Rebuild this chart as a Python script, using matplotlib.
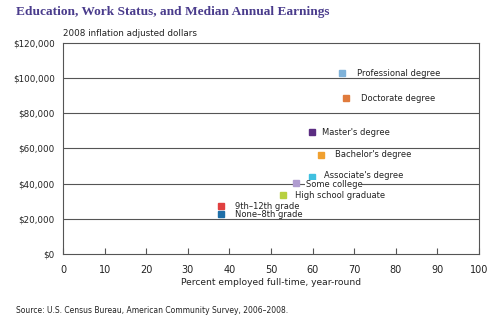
import matplotlib.pyplot as plt

# Data
levels = ["Professional degree", "Doctorate degree", "Master's degree", "Bachelor's degree",
          "Associate's degree", "Some college", "High school graduate",
          "9th\u201312th grade", "None\u20138th grade"]
pct_fulltime = [67.0, 68.0, 59.8, 61.9, 59.9, 55.9, 52.9, 37.9, 37.9]
earnings = [102700, 88400, 69300, 56400, 43600, 40200, 33500, 27000, 22500]
colors = ["#7fb2d9", "#e07b3c", "#5b2d82", "#f0a030", "#40c0e0",
          "#b09cd0", "#b8d040", "#e04040", "#1f6fa8"]
label_dx = [15, 15, 10, 14, 12, 10, 12, 14, 14]  # pixel gap marker -> label
label_dy = [0, 0, 0, 0, 1.5, -1, 0, 0, 0]

yticks = [0, 20000, 40000, 60000, 80000, 100000, 120000]
xticks = [0, 10, 20, 30, 40, 50, 60, 70, 80, 90, 100]

fig = plt.figure(figsize=(5, 3.25), dpi=100)
ax = fig.add_axes([0.126, 0.2185, 0.832, 0.6495])

for y in yticks[1:-1]:
    ax.axhline(y, color="#555555", lw=0.8, zorder=1)

for name, x, y, c, dx, dy in zip(levels, pct_fulltime, earnings, colors, label_dx, label_dy):
    ax.plot(x, y, "s", color=c, markersize=4.3, zorder=3)
    bg = dict(facecolor="white", edgecolor="none", pad=0.1) if name == "Some college" else None
    ax.annotate(name, (x, y), xytext=(dx * 0.72, dy * 0.72), textcoords="offset points",
                va="center", ha="left", fontsize=6.0, color="#222222", bbox=bg, zorder=4)

ax.set_xlim(0, 100)
ax.set_ylim(0, 120000)
ax.set_xticks(xticks)
ax.set_yticks(yticks)
ax.set_yticklabels(["${:,}".format(v) for v in yticks])
ax.tick_params(axis="x", direction="in", length=4, width=0.8, color="#555555",
               labelsize=7, labelcolor="#222222", pad=8)
ax.tick_params(axis="y", length=0, labelsize=6.3, labelcolor="#222222", pad=6)
for s in ax.spines.values():
    s.set_color("#555555")
    s.set_linewidth(0.8)

ax.set_xlabel("Percent employed full-time, year-round", fontsize=6.6, color="#222222", labelpad=2)

fig.text(0.032, 0.962, "Education, Work Status, and Median Annual Earnings",
         fontsize=9.6, fontweight="bold", family="Liberation Serif", color="#4a3c8c", va="center")
fig.text(0.126, 0.898, "2008 inflation adjusted dollars", fontsize=6.3, color="#222222", va="center")
fig.text(0.032, 0.045, "Source: U.S. Census Bureau, American Community Survey, 2006\u20132008.",
         fontsize=5.5, color="#222222", va="center")

fig.savefig("out.png", dpi=100)
